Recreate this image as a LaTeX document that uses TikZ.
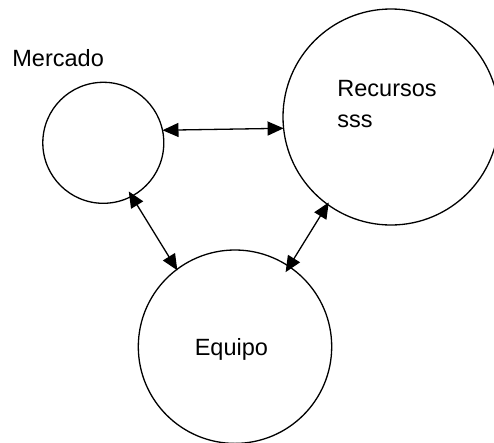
\documentclass[tikz,border=0pt]{standalone}
\usepackage{fontspec}
\setmainfont{Liberation Sans}
\usetikzlibrary{arrows.meta}
\tikzset{
  ring/.style={circle, draw, line width=1.3pt, inner sep=0pt, outer sep=0pt},
  link/.style={line width=1.3pt, {Triangle[length=16pt,width=14pt]}-{Triangle[length=16pt,width=14pt]}},
  caption/.style={inner sep=0pt, outer sep=0pt, font=\fontsize{23.5}{31}\selectfont, align=left}
}
\begin{document}
\begin{tikzpicture}[x=1pt, y=-1pt]
  \useasboundingbox (0,0) rectangle (494,442);
  % the three circles
  \node[ring, minimum size=121pt]   (m) at (103.3,142.8) {};
  \node[ring, minimum size=216pt]   (r) at (391,117) {};
  \node[ring, minimum size=193.4pt] (e) at (235,346.7) {};
  % texts
  \node[caption, anchor=base west] (mt) at (12.4,66) {Mercado};
  \node[caption, anchor=base west] (rt) at (337.4,127.3) {Recursos\\sss};
  \node[caption, anchor=base west] (et) at (194.8,355) {Equipo};
  % two-way links
  \draw[link] (m.12.9) -- (r.186.5);
  \draw[link, shorten <=-5.6pt, shorten >=-1pt] (m.-62.7) -- (e.127.5);
  \draw[link, shorten <=-6.6pt, shorten >=-2.3pt] (e.56.3) -- (r.234.8);
\end{tikzpicture}
\end{document}
